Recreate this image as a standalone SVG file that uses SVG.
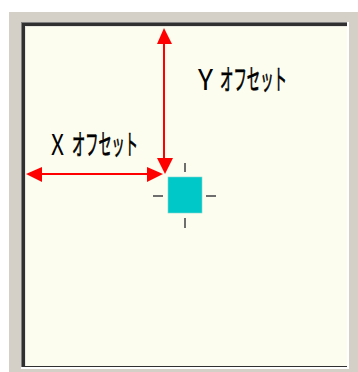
<svg xmlns="http://www.w3.org/2000/svg" width="358" height="372" viewBox="0 0 358 372">
<defs>
<style>
.arrow{stroke:#ff0000;stroke-width:2;fill:none}
.head{fill:#ff0000}
.tick{stroke:#6e6e6e;stroke-width:2}
.lbl{font-family:"Noto Sans CJK JP","Liberation Sans",sans-serif;font-size:28px;font-weight:normal;fill:#000}
.kana{stroke:#000;stroke-width:0.7}
</style>
</defs>
<rect width="358" height="372" fill="#ffffff"/>
<g id="frame">
<rect x="9" y="12" width="349" height="360" fill="#d4d0c8"/>
<rect x="21" y="22" width="328" height="347" fill="#ffffff"/>
<rect x="21" y="22" width="326" height="345" fill="#808080"/>
<rect x="22" y="23" width="325" height="344" fill="#303030"/>
<rect x="25" y="26" width="322" height="340" fill="#e8e8e0"/>
<rect x="26" y="27" width="321" height="339" fill="#fdfdef"/>
</g>
<g id="connectors">
<line class="arrow" x1="164" y1="42" x2="164" y2="160"/>
<polygon class="head" points="164,28 157,44 172,44"/>
<polygon class="head" points="165,174 157,158 173,158"/>
<line class="arrow" x1="40" y1="174" x2="150" y2="174"/>
<polygon class="head" points="26,174 42,167 42,182"/>
<polygon class="head" points="163,174 147,167 147,182"/>
</g>
<g id="marker">
<rect x="168" y="177" width="34" height="36" fill="#00c8c8" stroke="#80d8d0" stroke-width="0.6"/>
<line class="tick" x1="185" y1="163" x2="185" y2="172"/>
<line class="tick" x1="185" y1="218" x2="185" y2="228"/>
<line class="tick" x1="153" y1="196" x2="163" y2="196"/>
<line class="tick" x1="206" y1="196" x2="216" y2="196"/>
</g>
<g id="label-y">
<text class="lbl" y="90"><tspan x="198" textLength="15" lengthAdjust="spacingAndGlyphs">Y</tspan> <tspan class="kana" x="220" textLength="67" lengthAdjust="spacingAndGlyphs">オフセット</tspan></text>
</g>
<g id="label-x">
<text class="lbl" y="155"><tspan x="51" textLength="13" lengthAdjust="spacingAndGlyphs">X</tspan> <tspan class="kana" x="72" textLength="66" lengthAdjust="spacingAndGlyphs">オフセット</tspan></text>
</g>
</svg>
